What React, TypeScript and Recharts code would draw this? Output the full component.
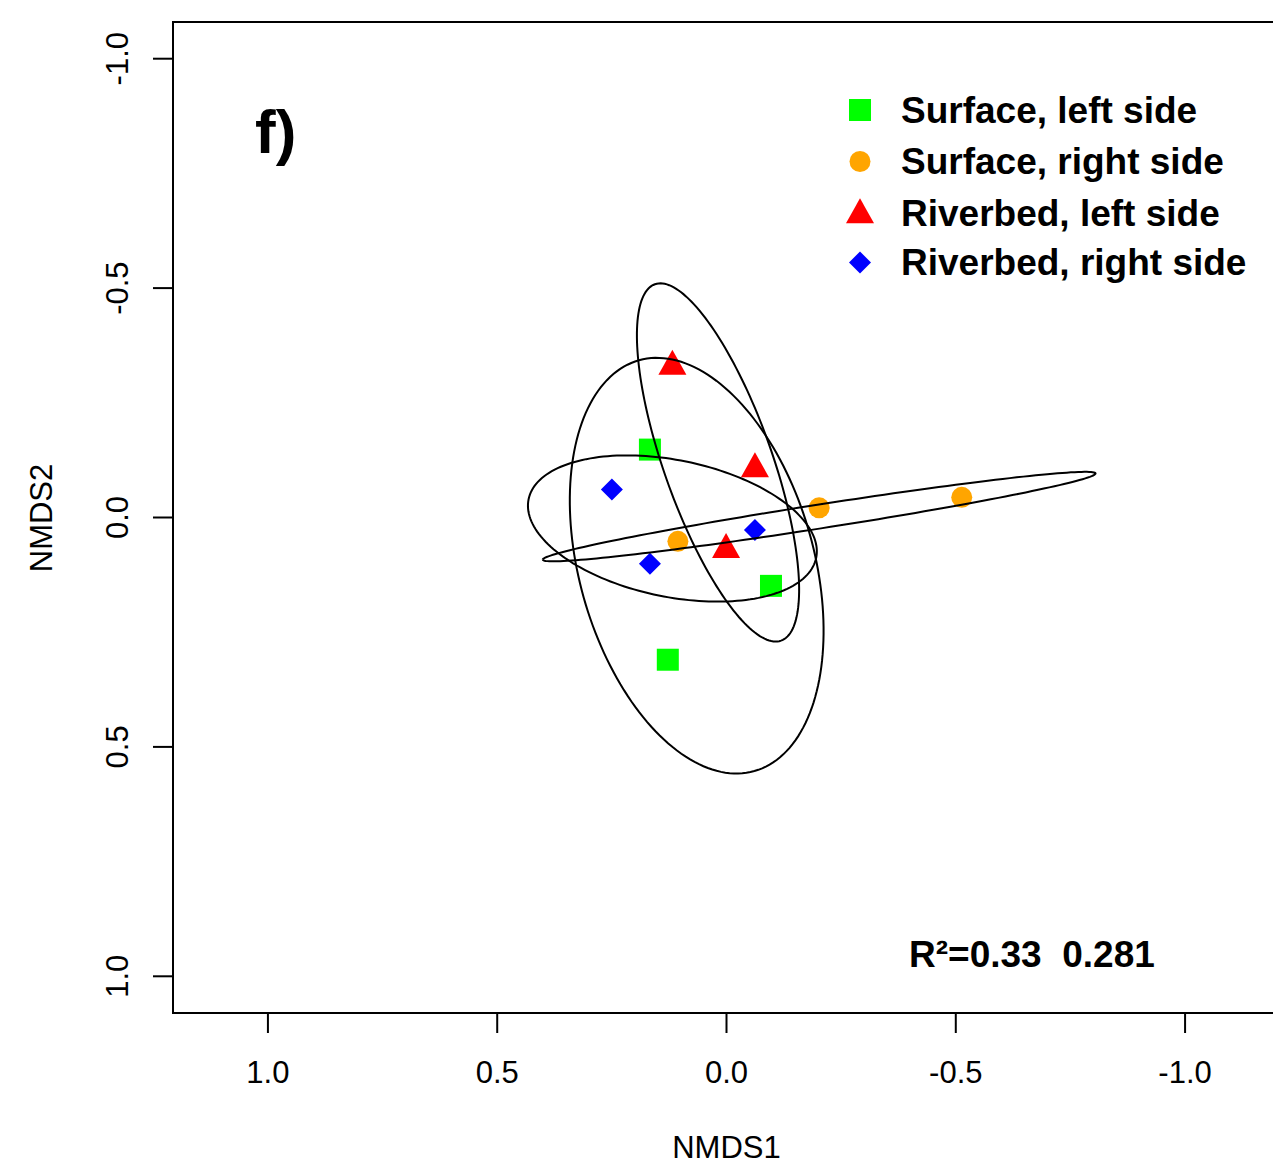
import React from 'react';
import { ScatterChart, Scatter, XAxis, YAxis, ReferenceArea } from 'recharts';

const FONT = '"Liberation Sans", Arial, Helvetica, sans-serif';

// axis ticks (both axes run reversed, 1.0 on the left / bottom)
const axisTicks = [1, 0.5, 0, -0.5, -1];

// NMDS site scores per group
const surfaceLeft = [
  { x: 0.167, y: -0.148 },
  { x: -0.097, y: 0.149 },
  { x: 0.128, y: 0.31 },
];
const surfaceRight = [
  { x: 0.106, y: 0.052 },
  { x: -0.202, y: -0.021 },
  { x: -0.513, y: -0.044 },
];
const riverbedLeft = [
  { x: 0.118, y: -0.329 },
  { x: -0.062, y: -0.106 },
  { x: 0.001, y: 0.07 },
];
const riverbedRight = [
  { x: 0.25, y: -0.061 },
  { x: 0.167, y: 0.101 },
  { x: -0.062, y: 0.027 },
];

// ordiellipse outlines: centre x, centre y, semi-axis a, semi-axis b, rotation (deg)
const ellipseSurfaceLeft = [0.065, 0.105, 0.465, 0.256, 105.7];
const ellipseSurfaceRight = [-0.202, -0.002, 0.61, 0.026, 8.87];
const ellipseRiverbedLeft = [0.0185, -0.12, 0.412, 0.118, 109.5];
const ellipseRiverbedRight = [0.118, 0.024, 0.32, 0.149, 168.5];

const groupNames = ['Surface, left side', 'Surface, right side', 'Riverbed, left side', 'Riverbed, right side'];
const groupColors = ['#00ff00', '#ffa500', '#ff0000', '#0000ff'];

const stressText = 'R\u00b2=0.33  0.281';

const ellipsePoints = ([cx, cy, a, b, deg]: number[]) => {
  const t = (deg * Math.PI) / 180;
  const pts: { x: number; y: number }[] = [];
  const n = 180;
  for (let i = 0; i <= n; i++) {
    const s = (i / n) * 2 * Math.PI;
    const u = a * Math.cos(s);
    const v = b * Math.sin(s);
    pts.push({
      x: cx + u * Math.cos(t) - v * Math.sin(t),
      y: cy + u * Math.sin(t) + v * Math.cos(t),
    });
  }
  return pts;
};

const drawSquare = (cx: number, cy: number, c: string) => (
  <rect x={cx - 11} y={cy - 11} width={22} height={22} fill={c} />
);
const drawDot = (cx: number, cy: number, c: string) => <circle cx={cx} cy={cy} r={10.5} fill={c} />;
const drawTriangle = (cx: number, cy: number, c: string) => (
  <polygon points={`${cx},${cy - 16.7} ${cx + 14},${cy + 8.3} ${cx - 14},${cy + 8.3}`} fill={c} />
);
const drawDiamond = (cx: number, cy: number, c: string) => (
  <polygon points={`${cx},${cy - 11} ${cx + 11},${cy} ${cx},${cy + 11} ${cx - 11},${cy}`} fill={c} />
);
const markers = [drawSquare, drawDot, drawTriangle, drawDiamond];

const groups = [surfaceLeft, surfaceRight, riverbedLeft, riverbedRight];
const ellipses = [ellipseSurfaceLeft, ellipseSurfaceRight, ellipseRiverbedLeft, ellipseRiverbedRight];

const XTick = ({ x, payload }: any) => (
  <text x={x} y={1083} textAnchor="middle" fontSize={31} fontFamily={FONT} fill="#000">
    {Number(payload.value).toFixed(1)}
  </text>
);

const YTick = ({ y, payload }: any) => (
  <text
    x={128}
    y={y}
    transform={`rotate(-90 128 ${y})`}
    textAnchor="middle"
    fontSize={31}
    fontFamily={FONT}
    fill="#000"
  >
    {Number(payload.value).toFixed(1)}
  </text>
);

const legendRows = [110, 161.5, 215, 262.5];

const App: React.FC = () => {
  return (
    <div
      style={{
        position: 'absolute',
        left: 0,
        top: 0,
        width: 1273,
        height: 1168,
        overflow: 'hidden',
        background: '#fff',
      }}
    >
      <ScatterChart width={1290} height={1168} margin={{ top: 22, right: 10, left: 0, bottom: 0 }}>
        <XAxis
          type="number"
          dataKey="x"
          domain={[-1.207, 1.207]}
          reversed
          allowDataOverflow
          ticks={axisTicks}
          tick={<XTick />}
          tickSize={20}
          tickLine={{ stroke: '#000', strokeWidth: 2 }}
          axisLine={false}
          height={155}
        />
        <YAxis
          type="number"
          dataKey="y"
          domain={[-1.08, 1.08]}
          reversed
          allowDataOverflow
          ticks={axisTicks}
          tick={<YTick />}
          tickSize={20}
          tickLine={{ stroke: '#000', strokeWidth: 2 }}
          axisLine={false}
          width={173}
        />
        <ReferenceArea
          x1={-1.207}
          x2={1.207}
          y1={-1.08}
          y2={1.08}
          fill="none"
          stroke="#000"
          strokeWidth={2}
          ifOverflow="visible"
        />
        {groups.map((g, i) => (
          <Scatter
            key={groupNames[i]}
            name={groupNames[i]}
            data={g}
            isAnimationActive={false}
            shape={(p: any) => markers[i](p.cx, p.cy, groupColors[i])}
          />
        ))}
        {ellipses.map((e, i) => (
          <Scatter
            key={`ellipse-${i}`}
            data={ellipsePoints(e)}
            isAnimationActive={false}
            line={{ stroke: '#000', strokeWidth: 2 }}
            lineType="joint"
            shape={() => <g />}
            legendType="none"
          />
        ))}

        {/* panel letter */}
        <text x={255} y={153} fontSize={62} fontWeight="bold" fontFamily={FONT} fill="#000">
          f)
        </text>

        {/* group legend */}
        <g>
          {groupNames.map((name, i) => (
            <g key={name}>
              {markers[i](860, legendRows[i], groupColors[i])}
              <text
                x={901}
                y={legendRows[i] + 12.5 - (i === 2 ? 2 : 0)}
                fontSize={37}
                fontWeight="bold"
                fontFamily={FONT}
                fill="#000"
              >
                {name}
              </text>
            </g>
          ))}
        </g>

        <text
          x={909}
          y={967}
          fontSize={37}
          fontWeight="bold"
          fontFamily={FONT}
          fill="#000"
          style={{ whiteSpace: 'pre' }}
        >
          {stressText}
        </text>

        {/* axis titles */}
        <text x={726.5} y={1158} textAnchor="middle" fontSize={31} fontFamily={FONT} fill="#000">
          NMDS1
        </text>
        <text
          x={52}
          y={518}
          transform="rotate(-90 52 518)"
          textAnchor="middle"
          fontSize={31}
          fontFamily={FONT}
          fill="#000"
        >
          NMDS2
        </text>
      </ScatterChart>
    </div>
  );
};

export default App;
